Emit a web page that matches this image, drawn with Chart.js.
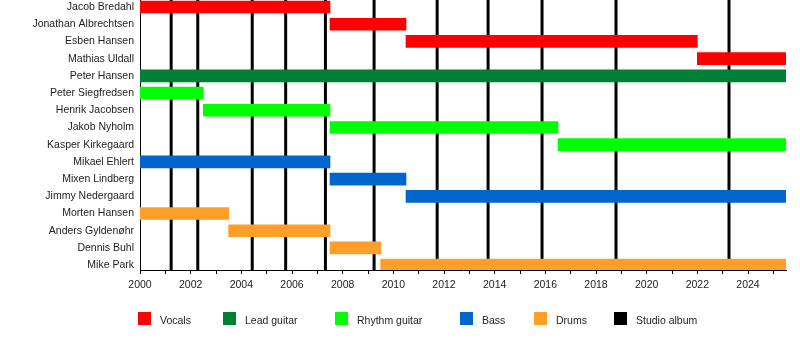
<!DOCTYPE html>
<html>
<head>
<meta charset="utf-8">
<script src="https://cdn.jsdelivr.net/npm/chart.js@4/dist/chart.umd.min.js"></script>
<style>
  html, body { margin: 0; padding: 0; background: #fff; }
  #wrap { position: relative; width: 800px; height: 360px; }
  #legend { position: absolute; left: 0; top: 0; width: 800px; height: 360px; pointer-events: none;
    font-family: "Liberation Sans", Arial, sans-serif; font-size: 10.5px; color: #222; }
  .lg-box { position: absolute; top: 312px; width: 13px; height: 13px; }
  .lg-text { position: absolute; top: 313px; line-height: 14px; white-space: nowrap; }
</style>
</head>
<body>
<div id="wrap">
  <canvas id="timeline" width="800" height="360"></canvas>
  <div id="legend"></div>
</div>
<script>
// members (top to bottom), role index and years in the band
var members = [
  "Jacob Bredahl", "Jonathan Albrechtsen", "Esben Hansen", "Mathias Uldall",
  "Peter Hansen", "Peter Siegfredsen", "Henrik Jacobsen", "Jakob Nyholm",
  "Kasper Kirkegaard", "Mikael Ehlert", "Mixen Lindberg", "Jimmy Nedergaard",
  "Morten Hansen", "Anders Gyldenøhr", "Dennis Buhl", "Mike Park"
];
var memberRole  = [0, 0, 0, 0, 1, 2, 2, 2, 2, 3, 3, 3, 4, 4, 4, 4];
var memberStart = [2000, 2007.5, 2010.5, 2022, 2000, 2000, 2002.5, 2007.5, 2016.5, 2000, 2007.5, 2010.5, 2000, 2003.5, 2007.5, 2009.5];
var memberEnd   = [2007.5, 2010.5, 2022, 2025.5, 2025.5, 2002.5, 2007.5, 2016.5, 2025.5, 2007.5, 2010.5, 2025.5, 2003.5, 2007.5, 2009.5, 2025.5];

var roles = ["Vocals", "Lead guitar", "Rhythm guitar", "Bass", "Drums"];
var roleColors = ["#ff0000", "#008035", "#00ff00", "#0066cc", "#ff9f2a"];

// studio album release dates
var albumYears = [2001.23, 2002.28, 2004.43, 2005.75, 2007.32, 2009.24, 2011.73, 2013.74, 2015.87, 2018.79, 2023.25];

var xTicks = [];
for (var y = 2000; y <= 2025; y++) xTicks.push(y);

// legend positions (px)
var legendLabels = roles.concat(["Studio album"]);
var legendColors = roleColors.concat(["#000000"]);
var legendX = [138, 223, 335, 460, 534, 614];

var FONT = "'Liberation Sans', Arial, sans-serif";

function buildDatasets() {
  var sets = [];
  for (var r = 0; r < roles.length; r++) {
    var data = [];
    for (var i = 0; i < members.length; i++) {
      if (memberRole[i] === r) data.push({ x: [memberStart[i], memberEnd[i]], y: i });
    }
    sets.push({
      label: roles[r],
      data: data,
      backgroundColor: roleColors[r],
      borderWidth: 0,
      borderSkipped: false,
      grouped: false,
      barThickness: 12,
      maxBarThickness: 12
    });
  }
  return sets;
}

/* 앨범 세로선 */
var albumLines = {
  id: "albumLines",
  beforeDatasetsDraw: function (chart) {
    var ctx = chart.ctx;
    var area = chart.chartArea;
    var xs = chart.scales.x;
    ctx.save();
    ctx.strokeStyle = "#000";
    ctx.lineWidth = 3;
    for (var i = 0; i < albumYears.length; i++) {
      var px = xs.getPixelForValue(albumYears[i]);
      ctx.beginPath();
      ctx.moveTo(px, area.top);
      ctx.lineTo(px, area.bottom);
      ctx.stroke();
    }
    ctx.restore();
  }
};

new Chart(document.getElementById("timeline"), {
  type: "bar",
  data: { datasets: buildDatasets() },
  plugins: [albumLines],
  options: {
    indexAxis: "y",
    responsive: false,
    animation: false,
    layout: { padding: { left: 0, right: 14, top: 0, bottom: 70 } },
    plugins: {
      legend: { display: false },
      tooltip: { enabled: false }
    },
    scales: {
      x: {
        type: "linear",
        min: 2000,
        max: 2025.5,
        afterBuildTicks: function (scale) {
          scale.ticks = xTicks.map(function (v) { return { value: v }; });
        },
        afterFit: function (scale) {
          scale.height = 20;
          scale.paddingLeft = 0;
          scale.paddingRight = 0;
        },
        grid: { drawOnChartArea: false, drawTicks: true, tickLength: 4, color: "#000" },
        border: { display: true, color: "#000", width: 1 },
        ticks: {
          autoSkip: false,
          maxRotation: 0,
          padding: 5,
          color: "#222",
          font: { family: FONT, size: 10.5 },
          callback: function (v) { return v % 2 === 0 ? String(v) : ""; }
        }
      },
      y: {
        type: "linear",
        reverse: true,
        offset: false,
        min: -0.407,
        max: 15.282,
        afterBuildTicks: function (scale) {
          scale.ticks = members.map(function (n, i) { return { value: i }; });
        },
        afterFit: function (scale) {
          scale.width = 140;
          scale.paddingTop = 0;
          scale.paddingBottom = 0;
        },
        grid: { offset: false, drawOnChartArea: false, drawTicks: false },
        border: { display: true, color: "#000", width: 1 },
        ticks: {
          autoSkip: false,
          padding: 6,
          color: "#222",
          font: { family: FONT, size: 10.5 },
          callback: function (v) { return members[v]; }
        }
      }
    }
  }
});

// legend
var lg = document.getElementById("legend");
for (var k = 0; k < legendLabels.length; k++) {
  var box = document.createElement("div");
  box.className = "lg-box";
  box.style.left = legendX[k] + "px";
  box.style.background = legendColors[k];
  lg.appendChild(box);
  var txt = document.createElement("div");
  txt.className = "lg-text";
  txt.style.left = (legendX[k] + 22) + "px";
  txt.textContent = legendLabels[k];
  lg.appendChild(txt);
}
</script>
</body>
</html>
